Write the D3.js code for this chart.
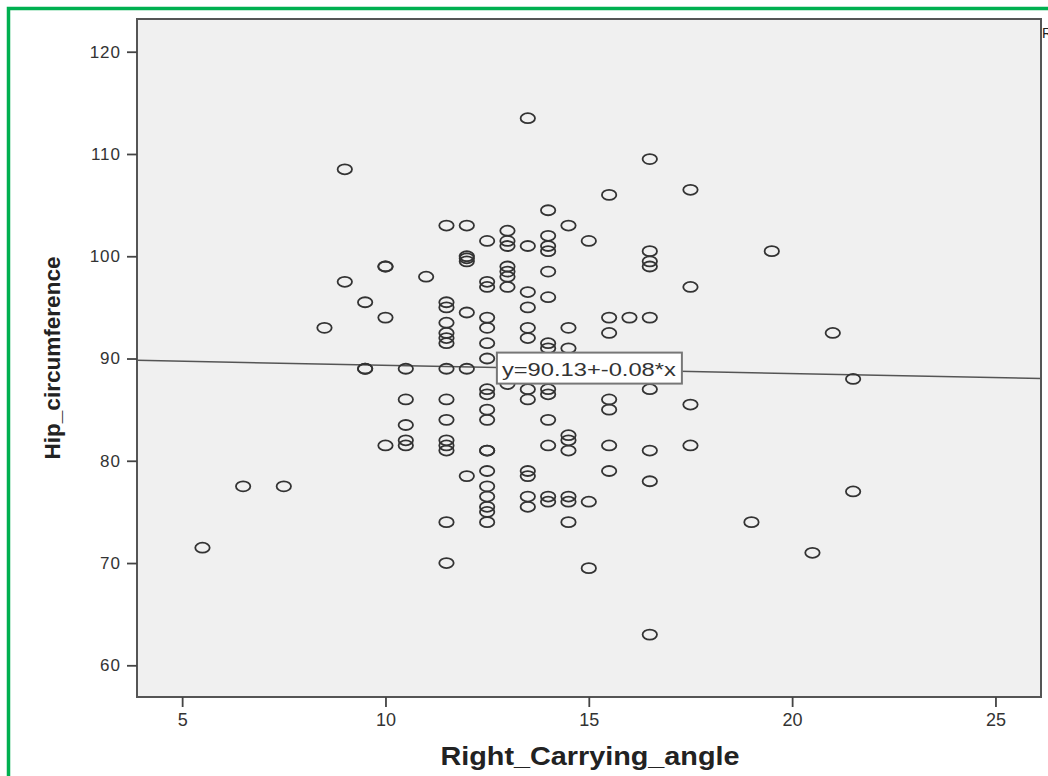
<!DOCTYPE html>
<html>
<head>
<meta charset="utf-8">
<script src="https://cdn.jsdelivr.net/npm/d3@7"></script>
<style>
body { margin:0; background:#ffffff; }
svg { display:block; font-family:"Liberation Sans", Arial, sans-serif; }
</style>
</head>
<body>
<svg></svg>
<script>

// Right_Carrying_angle (x) and Hip_circumference (y), read column by column
var carryingAngle = [
 5.5, 6.5, 7.5, 8.5,
 9, 9,
 9.5, 9.5, 9.5,
 10, 10, 10, 10,
 10.5, 10.5, 10.5, 10.5, 10.5,
 11,
 11.5, 11.5, 11.5, 11.5, 11.5, 11.5, 11.5, 11.5, 11.5, 11.5, 11.5, 11.5, 11.5, 11.5, 11.5,
 12, 12, 12, 12, 12, 12, 12,
 12.5, 12.5, 12.5, 12.5, 12.5, 12.5, 12.5, 12.5, 12.5, 12.5, 12.5, 12.5, 12.5, 12.5, 12.5, 12.5, 12.5, 12.5, 12.5,
 13, 13, 13, 13, 13, 13, 13, 13,
 13.5, 13.5, 13.5, 13.5, 13.5, 13.5, 13.5, 13.5, 13.5, 13.5, 13.5, 13.5,
 14, 14, 14, 14, 14, 14, 14, 14, 14, 14, 14, 14, 14, 14,
 14.5, 14.5, 14.5, 14.5, 14.5, 14.5, 14.5, 14.5, 14.5,
 15, 15, 15,
 15.5, 15.5, 15.5, 15.5, 15.5, 15.5, 15.5,
 16,
 16.5, 16.5, 16.5, 16.5, 16.5, 16.5, 16.5, 16.5, 16.5,
 17.5, 17.5, 17.5, 17.5,
 19, 19.5, 20.5, 21,
 21.5, 21.5
];

var hipCircumference = [
 71.5, 77.5, 77.5, 93,
 108.5, 97.5,
 95.5, 89, 89,
 99, 99, 94, 81.5,
 89, 86, 83.5, 82, 81.5,
 98,
 103, 95.5, 95, 93.5, 92.5, 92, 91.5, 89, 86, 84, 82, 81.5, 81, 74, 70,
 103, 100, 99.8, 99.5, 94.5, 89, 78.5,
 101.5, 97.5, 97, 94, 93, 91.5, 90, 87, 86.5, 85, 84, 81, 81, 79, 77.5, 76.5, 75.5, 75, 74,
 102.5, 101.5, 101, 99, 98.5, 98, 97, 87.5,
 113.5, 101, 96.5, 95, 93, 92, 87, 86, 79, 78.5, 76.5, 75.5,
 104.5, 102, 101, 100.5, 98.5, 96, 91.5, 91, 87, 86.5, 84, 81.5, 76.5, 76,
 103, 93, 91, 82.5, 82, 81, 76.5, 76, 74,
 101.5, 76, 69.5,
 106, 94, 92.5, 86, 85, 81.5, 79,
 94,
 109.5, 100.5, 99.5, 99, 94, 87, 81, 78, 63,
 106.5, 97, 85.5, 81.5,
 74, 100.5, 71, 92.5,
 88, 77
];

var xTicks = [5, 10, 15, 20, 25];
var yTicks = [60, 70, 80, 90, 100, 110, 120];

// fit line  y = 90.13 + -0.08*x
var fitIntercept = 90.13;
var fitSlope = -0.08;
var fitLabel = "y=90.13+-0.08*x";
var fitLabelAt = 12.74;

var screen = {width: 1048, height: 776};
var plot = {left: 137, top: 19, right: 1041, bottom: 697};

var svg = d3.select("svg")
    .attr("width", screen.width)
    .attr("height", screen.height);

var xScale = d3.scaleLinear()
    .domain([3.89, 26.12])
    .range([plot.left, plot.right]);

var yScale = d3.scaleLinear()
    .domain([56.9, 123.2])
    .range([plot.bottom, plot.top]);

var points = carryingAngle.map(function(d, i) {
    return {x: d, y: hipCircumference[i]};
});
console.log(points.length);

// green frame around the picture
svg.append("rect")
    .attr("x", 8.5)
    .attr("y", 8.5)
    .attr("width", 1200)
    .attr("height", 900)
    .attr("fill", "none")
    .attr("stroke", "#00b050")
    .attr("stroke-width", 3.5);

// plot background
svg.append("rect")
    .attr("x", plot.left)
    .attr("y", plot.top)
    .attr("width", plot.right - plot.left)
    .attr("height", plot.bottom - plot.top)
    .attr("fill", "#f0f0f0")
    .attr("stroke", "#555")
    .attr("stroke-width", 2);

// axes
var xAxis = d3.axisBottom(xScale).tickValues(xTicks).tickSize(10).tickPadding(6);
var yAxis = d3.axisLeft(yScale).tickValues(yTicks).tickSize(10).tickPadding(6);

var gx = svg.append("g")
    .attr("transform", "translate(0," + plot.bottom + ")")
    .call(xAxis);
gx.select(".domain").remove();
gx.selectAll("line").attr("stroke", "#444").attr("stroke-width", 1.8);
gx.selectAll("text")
    .attr("font-size", "18px")
    .attr("fill", "#333");

var gy = svg.append("g")
    .attr("transform", "translate(" + plot.left + ",0)")
    .call(yAxis);
gy.select(".domain").remove();
gy.selectAll("line").attr("stroke", "#444").attr("stroke-width", 1.8);
gy.selectAll("text")
    .attr("font-size", "17px")
    .attr("letter-spacing", "1px")
    .attr("fill", "#333");

// fit line
var x0 = xScale.domain()[0], x1 = xScale.domain()[1];
svg.append("line")
    .attr("x1", xScale(x0))
    .attr("y1", yScale(fitIntercept + fitSlope * x0))
    .attr("x2", xScale(x1))
    .attr("y2", yScale(fitIntercept + fitSlope * x1))
    .attr("stroke", "#555")
    .attr("stroke-width", 1.5);

// markers
svg.append("g")
    .selectAll("ellipse")
    .data(points)
    .enter()
    .append("ellipse")
    .attr("cx", function(d) { return xScale(d.x); })
    .attr("cy", function(d) { return yScale(d.y); })
    .attr("rx", 7.2)
    .attr("ry", 5)
    .attr("fill", "none")
    .attr("stroke", "#333")
    .attr("stroke-width", 1.8);

// label of the fit line
var labelX = xScale(fitLabelAt);
var labelY = yScale(fitIntercept + fitSlope * fitLabelAt);
svg.append("rect")
    .attr("x", labelX)
    .attr("y", labelY - 15)
    .attr("width", 185)
    .attr("height", 31)
    .attr("fill", "#ffffff")
    .attr("stroke", "#777")
    .attr("stroke-width", 2);
svg.append("text")
    .attr("x", labelX + 5)
    .attr("y", labelY + 8)
    .attr("font-size", "19px")
    .attr("fill", "#333")
    .attr("textLength", 174)
    .attr("lengthAdjust", "spacingAndGlyphs")
    .text(fitLabel);

// axis titles
svg.append("text")
    .attr("x", (plot.left + plot.right) / 2 + 1)
    .attr("y", 765)
    .attr("text-anchor", "middle")
    .attr("font-size", "25px")
    .attr("font-weight", "bold")
    .attr("fill", "#222")
    .attr("textLength", 299)
    .attr("lengthAdjust", "spacingAndGlyphs")
    .text("Right_Carrying_angle");

svg.append("text")
    .attr("transform", "translate(60,358) rotate(-90)")
    .attr("text-anchor", "middle")
    .attr("font-size", "22px")
    .attr("font-weight", "bold")
    .attr("fill", "#222")
    .attr("textLength", 203)
    .attr("lengthAdjust", "spacingAndGlyphs")
    .text("Hip_circumference");

// legend entry, clipped by the right edge as in the original
svg.append("text")
    .attr("x", 1042)
    .attr("y", 38)
    .attr("font-size", "14px")
    .attr("fill", "#222")
    .text("R");

</script>
</body>
</html>
